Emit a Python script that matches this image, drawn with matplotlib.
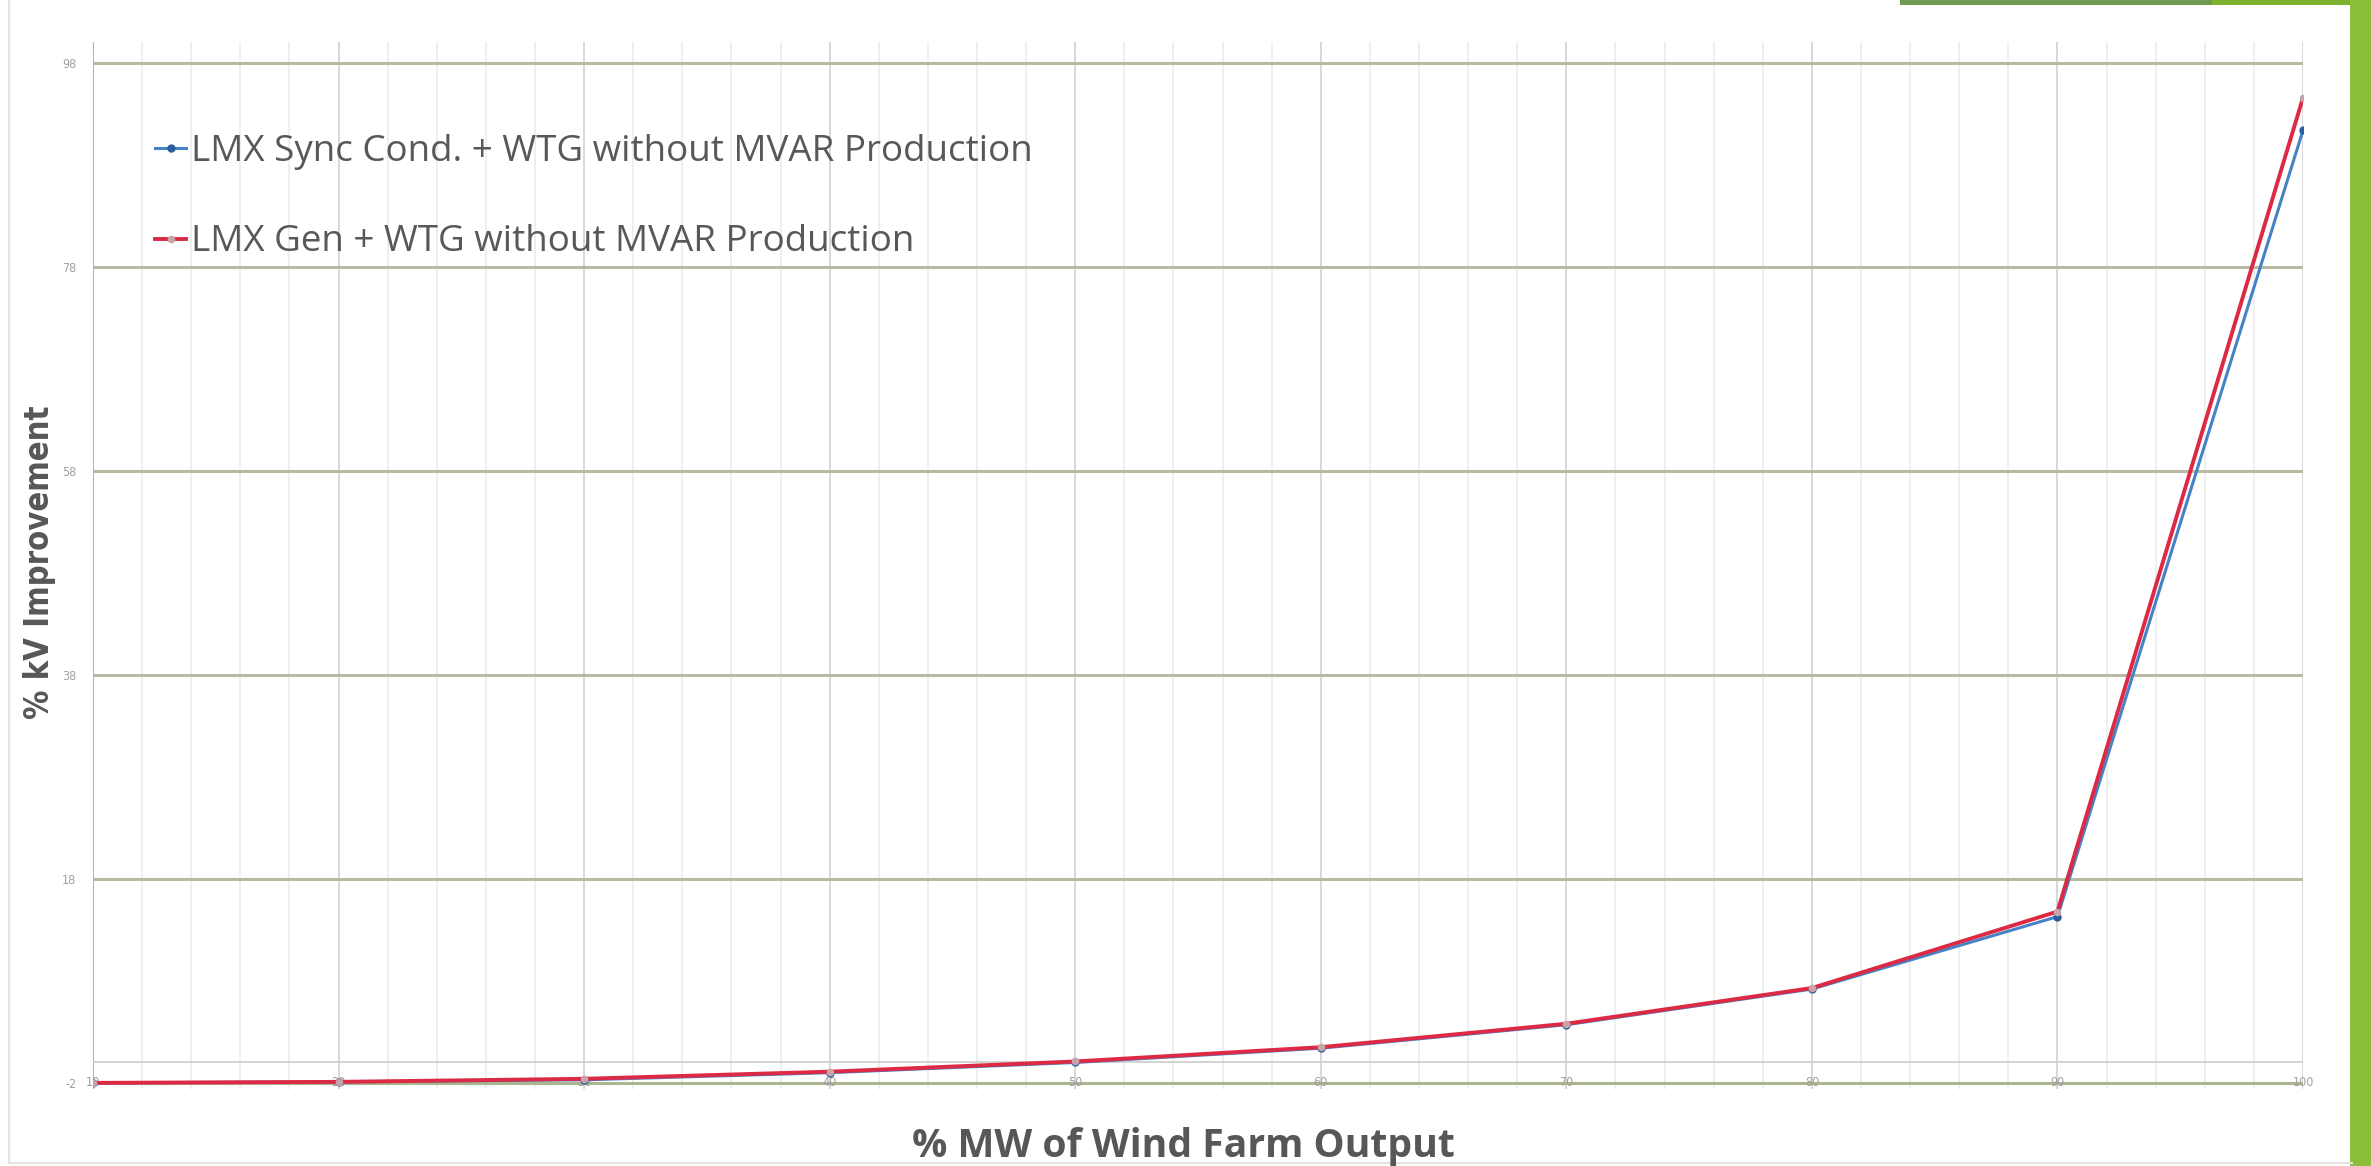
import matplotlib
matplotlib.use("Agg")
import matplotlib.pyplot as plt
from matplotlib.patches import Rectangle
from matplotlib.lines import Line2D

# ---- data -------------------------------------------------------------
wind_output = [10, 20, 30, 40, 50, 60, 70, 80, 90, 100]
sync_cond = [-2.0, -1.9, -1.7, -1.0, 0.0, 1.4, 3.7, 7.2, 14.3, 91.4]
lmx_gen = [-2.0, -1.9, -1.6, -0.9, 0.1, 1.5, 3.8, 7.3, 14.8, 94.6]

series_labels = ["LMX Sync Cond. + WTG without MVAR Production",
                 "LMX Gen + WTG without MVAR Production"]
x_ticks = [10, 20, 30, 40, 50, 60, 70, 80, 90, 100]
y_ticks = [-2, 18, 38, 58, 78, 98]
x_title = "% MW of Wind Farm Output"
y_title = "% kV Improvement"

# ---- figure -----------------------------------------------------------
W, H = 2371, 1166
DPI = 100
fig = plt.figure(figsize=(W / DPI, H / DPI), dpi=DPI)
fig.patch.set_facecolor("white")


def fx(px):
    return px / W


def fy(py):
    return 1 - py / H


# plot area in pixels
left, right, top, bottom = 93, 2303, 42, 1089
ax = fig.add_axes([fx(left), fy(bottom), fx(right) - fx(left), fy(top) - fy(bottom)])
ax.set_xlim(10, 100)
ax.set_ylim(-2.6, 100.06)
ax.set_facecolor("white")
for s in ax.spines.values():
    s.set_visible(False)

# vertical grid: minor every 2, major every 10
for v in range(12, 100, 2):
    if v % 10:
        ax.axvline(v, color="#efefef", lw=1.4, zorder=0)
for v in x_ticks[1:]:
    ax.axvline(v, color="#d8d8d8", lw=1.4, zorder=0)
ax.axvline(10, color="#a8a8a8", lw=1.3, zorder=1)

# horizontal grid
for v in y_ticks[1:]:
    ax.plot([10, 100], [v, v], color="#b9b9a4", lw=2.2, zorder=1, solid_capstyle="butt")
ax.plot([10, 100], [0, 0], color="#d0d0d0", lw=1.3, zorder=1)
ax.plot([10, 100], [-2, -2], color="#a9b68f", lw=2.2, zorder=1)

# series
ax.plot(wind_output, sync_cond, color="#4582c6", lw=2.2, marker="o", ms=5,
        mfc="#2c5d9c", mec="#2c5d9c", zorder=3, label=series_labels[0])
ax.plot(wind_output, lmx_gen, color="#dc2a45", lw=2.8, marker="o", ms=4.5,
        mfc="#c9a3aa", mec="#c9a3aa", zorder=4, label=series_labels[1])

# tick labels
ax.set_xticks([])
ax.set_yticks(y_ticks)
ax.set_yticklabels([str(v) for v in y_ticks], fontsize=9, color="#a0a0a0",
                   fontstretch="condensed")
ax.tick_params(axis="y", length=0, pad=12)
for v in x_ticks:
    ax.text(v, -2, str(v), ha="center", va="center", fontsize=9, color="#a0a0a0",
            fontstretch="condensed", zorder=2)

# axis titles
fig.text(fx(40), fy(562), y_title, rotation=90, ha="center", va="center",
         fontsize=23.5, fontweight="bold", color="#575757",
         family="DejaVu Sans", fontstretch="condensed")
fig.text(fx(1183), fy(1146), x_title, ha="center", va="center",
         fontsize=28.2, fontweight="bold", color="#575757",
         family=["Open Sans", "DejaVu Sans"], fontstretch="semi-condensed")

# legend
leg = ax.legend(loc="upper left", bbox_to_anchor=(fx(155), fy(134)),
                bbox_transform=fig.transFigure, frameon=False,
                handlelength=0.85, handletextpad=0.12, labelspacing=1.48,
                borderpad=0, borderaxespad=0,
                prop={"family": "Open Sans", "size": 26.5})
for t in leg.get_texts():
    t.set_color("#585858")

# slide decorations: faint frame and green bands
fig.add_artist(Line2D([fx(9), fx(9)], [fy(0), fy(1163)], color="#e4e4e4", lw=1.5))
fig.add_artist(Line2D([fx(9), fx(2352)], [fy(1163), fy(1163)], color="#e4e4e4", lw=1.5))
fig.add_artist(Rectangle((fx(1900), fy(5)), fx(312), 5 / H, color="#6f9a50", lw=0))
fig.add_artist(Rectangle((fx(2212), fy(5)), fx(159), 5 / H, color="#7db22d", lw=0))
fig.add_artist(Rectangle((fx(2350), 0), fx(21), 1, color="#8cbf38", lw=0))

fig.savefig("out.png", dpi=DPI)
